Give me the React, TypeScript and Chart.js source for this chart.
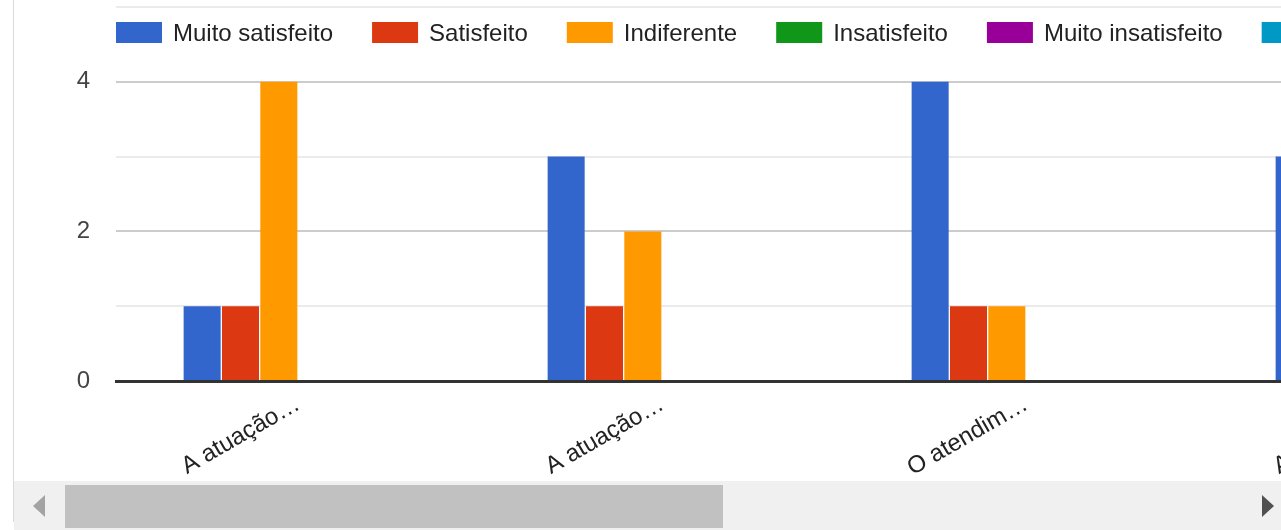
import React, { useEffect, useRef } from "react";
import { Chart, registerables } from "chart.js";

Chart.register(...registerables);

const categories = ["A atuação…", "A atuação…", "O atendim…", "A atuação…"];
const seriesLabels = [
  "Muito satisfeito",
  "Satisfeito",
  "Indiferente",
  "Insatisfeito",
  "Muito insatisfeito",
  "Não se aplica",
];
const seriesColors = ["#3366cc", "#dc3912", "#ff9900", "#109618", "#990099", "#0099c6"];
const muitoSatisfeito = [1, 3, 4, 3];
const satisfeito = [1, 1, 1, 2];
const indiferente = [4, 2, 1, 1];
const insatisfeito = [0, 0, 0, 0];
const muitoInsatisfeito = [0, 0, 0, 0];
const naoSeAplica = [0, 0, 0, 0];
const yTickLabels = [0, 2, 4];

const FONT = 'Arial, "Liberation Sans", sans-serif';

const legendPlugin = {
  id: "gLegend",
  afterDraw(chart: any) {
    const ctx = chart.ctx;
    ctx.save();
    ctx.font = `24px ${FONT}`;
    ctx.textBaseline = "alphabetic";
    ctx.textAlign = "left";
    let x = chart.chartArea.left;
    chart.data.datasets.forEach((ds: any) => {
      ctx.fillStyle = ds.backgroundColor;
      ctx.fillRect(x, 22, 46, 21);
      ctx.fillStyle = "#222222";
      ctx.fillText(ds.label, x + 57, 41);
      x += 57 + ctx.measureText(ds.label).width + 39;
    });
    ctx.restore();
  },
};

export default function App() {
  const ref = useRef<HTMLCanvasElement>(null);

  useEffect(() => {
    const values = [muitoSatisfeito, satisfeito, indiferente, insatisfeito, muitoInsatisfeito, naoSeAplica];
    const chart = new Chart(ref.current as HTMLCanvasElement, {
      type: "bar",
      data: {
        labels: categories,
        datasets: values.map((v, i) => ({
          label: seriesLabels[i],
          data: v,
          backgroundColor: seriesColors[i],
          borderWidth: 0,
          categoryPercentage: 0.632,
          barPercentage: 0.966,
        })),
      },
      plugins: [legendPlugin],
      options: {
        animation: false,
        responsive: false,
        devicePixelRatio: 1,
        layout: { padding: { top: 7, left: 0, right: 28, bottom: 0 } },
        plugins: {
          legend: { display: false },
          tooltip: { enabled: false },
        },
        scales: {
          x: {
            z: 1,
            grid: { display: false },
            border: { display: true, color: "#333333", width: 3 },
            ticks: {
              autoSkip: false,
              minRotation: 30,
              maxRotation: 30,
              padding: 1,
              color: "#222222",
              font: { family: FONT, size: 24 },
            },
            afterFit(scale: any) {
              scale.height = 149;
              scale.paddingLeft = 0;
              scale.paddingRight = 0;
            },
          },
          y: {
            min: 0,
            max: 5,
            border: { display: false },
            grid: {
              drawTicks: false,
              lineWidth: 2,
              color: (ctx: any) => {
                const v = ctx.tick ? ctx.tick.value : 0;
                if (v === 0) return "rgba(0,0,0,0)";
                return yTickLabels.includes(v) ? "#cccccc" : "#ebebeb";
              },
            },
            ticks: {
              stepSize: 1,
              padding: 26,
              color: "#444444",
              font: { family: FONT, size: 24 },
              callback: (v: any) => (yTickLabels.includes(Number(v)) ? String(v) : ""),
            },
            afterFit(scale: any) {
              scale.width = 116;
              scale.paddingTop = 0;
              scale.paddingBottom = 0;
            },
          },
        },
      },
    });
    return () => chart.destroy();
  }, []);

  return (
    <div
      style={{
        position: "fixed",
        left: 0,
        top: 0,
        width: 1281,
        height: 530,
        overflow: "hidden",
        background: "#ffffff",
      }}
    >
      <canvas
        ref={ref}
        width={1600}
        height={530}
        style={{ position: "absolute", left: 0, top: 0, width: 1600, height: 530 }}
      />
      <div style={{ position: "absolute", left: 13, top: 0, width: 1, height: 522, background: "#dadada" }} />
      <div style={{ position: "absolute", left: 14, top: 481, width: 1267, height: 49, background: "#f0f0f0" }} />
      <div style={{ position: "absolute", left: 65, top: 485, width: 658, height: 43, background: "#c1c1c1" }} />
      <div
        style={{
          position: "absolute",
          left: 33,
          top: 495,
          width: 0,
          height: 0,
          borderTop: "11px solid transparent",
          borderBottom: "11px solid transparent",
          borderRight: "12px solid #a3a3a3",
        }}
      />
      <div
        style={{
          position: "absolute",
          left: 1262,
          top: 495,
          width: 0,
          height: 0,
          borderTop: "11px solid transparent",
          borderBottom: "11px solid transparent",
          borderLeft: "12px solid #505050",
        }}
      />
    </div>
  );
}
